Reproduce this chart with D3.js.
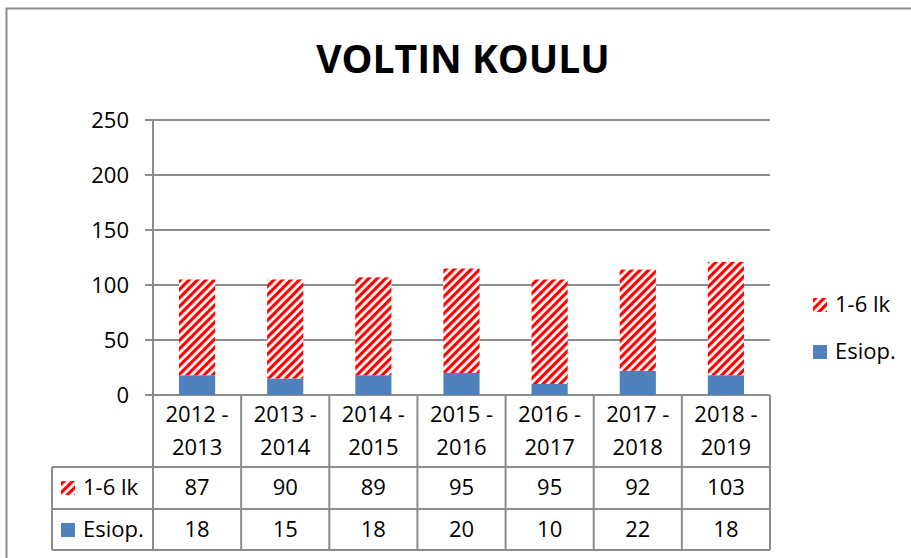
<!DOCTYPE html>
<html lang="fi">
<head>
<meta charset="utf-8">
<title>VOLTIN KOULU</title>
<script src="https://d3js.org/d3.v7.min.js"></script>
<style>
  body { margin: 0; background: #fff; }
  svg text { font-family: "Open Sans", "Liberation Sans", Arial, sans-serif; fill: #000; }
</style>
</head>
<body>
<script>
// data
const categories = ["2012 - 2013", "2013 - 2014", "2014 - 2015", "2015 - 2016", "2016 - 2017", "2017 - 2018", "2018 - 2019"];
const seriesNames = ["Esiop.", "1-6 lk"];
const esiop = [18, 15, 18, 20, 10, 22, 18];
const lk = [87, 90, 89, 95, 95, 92, 103];
const yTicks = [0, 50, 100, 150, 200, 250];

const width = 911, height = 558;
const gridColor = "#8c8c8c";
const blue = "#4f81bd";
const red = "#ff0000";

const svg = d3.select("body").append("svg")
  .attr("width", width)
  .attr("height", height);

// hatch pattern (wide upward diagonal)
const defs = svg.append("defs");
const pat = defs.append("pattern")
  .attr("id", "hatch")
  .attr("patternUnits", "userSpaceOnUse")
  .attr("width", 6)
  .attr("height", 6)
  .attr("patternTransform", "rotate(45)");
pat.append("rect").attr("width", 6).attr("height", 6).attr("fill", "#fff");
pat.append("rect").attr("width", 3.2).attr("height", 6).attr("fill", red);

// outer frame
svg.append("rect")
  .attr("x", 6.5).attr("y", 8.5)
  .attr("width", 920).attr("height", 570)
  .attr("fill", "none")
  .attr("stroke", gridColor)
  .attr("stroke-width", 2);

// title
svg.append("text")
  .attr("x", 463).attr("y", 73)
  .attr("text-anchor", "middle")
  .style("font-size", "39px")
  .style("font-weight", "bold")
  .text("VOLTIN KOULU");

const left = 153, right = 770;
const xScale = d3.scaleBand()
  .domain(categories)
  .range([left, right]);

const yScale = d3.scaleLinear()
  .domain([0, 250])
  .range([395, 120]);

// gridlines
svg.append("g")
  .selectAll("line")
  .data(yTicks)
  .join("line")
  .attr("x1", left - 8).attr("x2", right)
  .attr("y1", d => yScale(d)).attr("y2", d => yScale(d))
  .attr("stroke", gridColor)
  .attr("stroke-width", 2);

// y axis
svg.append("line")
  .attr("x1", left).attr("x2", left)
  .attr("y1", yScale(250)).attr("y2", yScale(0))
  .attr("stroke", gridColor)
  .attr("stroke-width", 2);

svg.append("g")
  .selectAll("text")
  .data(yTicks)
  .join("text")
  .attr("x", 129)
  .attr("y", d => yScale(d) + 8)
  .attr("text-anchor", "end")
  .style("font-size", "22px")
  .text(d => d);

// stacked bars
const rows = categories.map((c, i) => ({ cat: c, "Esiop.": esiop[i], "1-6 lk": lk[i] }));
const stacked = d3.stack().keys(seriesNames)(rows);
const fills = { "Esiop.": blue, "1-6 lk": "url(#hatch)" };
const barW = xScale.bandwidth() * 0.41;

svg.append("g")
  .selectAll("g")
  .data(stacked)
  .join("g")
  .attr("fill", d => fills[d.key])
  .selectAll("rect")
  .data(d => d)
  .join("rect")
  .attr("x", d => xScale(d.data.cat) + (xScale.bandwidth() - barW) / 2)
  .attr("y", d => yScale(d[1]))
  .attr("width", barW)
  .attr("height", d => yScale(d[0]) - yScale(d[1]));

// legend (right)
const legend = [
  { name: "1-6 lk", fill: "url(#hatch)", y: 298 },
  { name: "Esiop.", fill: blue, y: 345 }
];
legend.forEach(l => {
  svg.append("rect")
    .attr("x", 813).attr("y", l.y)
    .attr("width", 14).attr("height", 14)
    .attr("fill", l.fill);
  svg.append("text")
    .attr("x", 835).attr("y", l.y + 14)
    .style("font-size", "22px")
    .text(l.name);
});

// data table
const tLeft = 52;
const rowY = [395, 467, 509, 550];
const tbl = svg.append("g")
  .attr("stroke", gridColor)
  .attr("stroke-width", 2);

// horizontal lines
tbl.append("line").attr("x1", tLeft).attr("x2", right).attr("y1", rowY[1]).attr("y2", rowY[1]);
tbl.append("line").attr("x1", tLeft).attr("x2", right).attr("y1", rowY[2]).attr("y2", rowY[2]);
tbl.append("line").attr("x1", tLeft).attr("x2", right).attr("y1", rowY[3]).attr("y2", rowY[3]);
tbl.append("line").attr("x1", tLeft).attr("x2", tLeft).attr("y1", rowY[1]).attr("y2", rowY[3]);

// vertical lines at band edges
const edges = categories.map(c => xScale(c)).concat([right]);
tbl.selectAll("line.v")
  .data(edges)
  .join("line")
  .attr("class", "v")
  .attr("x1", d => d).attr("x2", d => d)
  .attr("y1", rowY[0]).attr("y2", rowY[3]);

// header labels
const head = svg.append("g")
  .selectAll("text")
  .data(categories)
  .join("text")
  .attr("text-anchor", "middle")
  .style("font-size", "22px");
head.append("tspan")
  .attr("x", d => xScale(d) + xScale.bandwidth() / 2)
  .attr("y", 422)
  .text(d => d.split(" - ")[0] + " -");
head.append("tspan")
  .attr("x", d => xScale(d) + xScale.bandwidth() / 2)
  .attr("y", 455)
  .text(d => d.split(" - ")[1]);

// value rows
const tableRows = [
  { name: "1-6 lk", fill: "url(#hatch)", vals: lk, base: 495 },
  { name: "Esiop.", fill: blue, vals: esiop, base: 537 }
];
tableRows.forEach(r => {
  svg.append("rect")
    .attr("x", 61).attr("y", r.base - 14)
    .attr("width", 14).attr("height", 14)
    .attr("fill", r.fill);
  svg.append("text")
    .attr("x", 83).attr("y", r.base)
    .style("font-size", "22px")
    .text(r.name);
  svg.append("g")
    .selectAll("text")
    .data(r.vals)
    .join("text")
    .attr("x", (d, i) => xScale(categories[i]) + xScale.bandwidth() / 2)
    .attr("y", r.base)
    .attr("text-anchor", "middle")
    .style("font-size", "22px")
    .text(d => d);
});
</script>
</body>
</html>
